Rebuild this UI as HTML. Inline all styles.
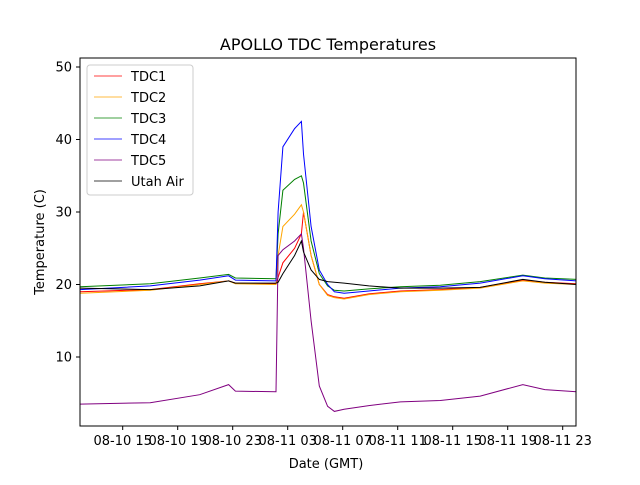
<!DOCTYPE html>
<html><head><meta charset="utf-8"><style>
body{margin:0;background:#fff}
text{font-family:"DejaVu Sans","Liberation Sans",sans-serif;fill:#000}
</style></head><body>
<svg id="chart" width="640" height="480" xmlns="http://www.w3.org/2000/svg">
<rect width="640" height="480" fill="#fff"/>
<text x="328" y="50" font-size="16" text-anchor="middle">APOLLO TDC Temperatures</text>
<g id="plot"></g>
<rect x="80" y="58" width="496" height="368" fill="none" stroke="#000" stroke-width="1"/>
<g id="axes"></g>
<text x="326" y="468" font-size="13" text-anchor="middle">Date (GMT)</text>
<text transform="translate(44,242) rotate(-90)" font-size="13" text-anchor="middle">Temperature (C)</text>
<g id="legend"></g>
</svg>
<script>
const times=[-3.1,2.0,5.6,7.7,8.2,11.15,11.3,11.65,12.5,13.0,13.15,13.7,14.3,14.9,15.4,16.1,17.9,20.2,23.1,26.0,29.1,30.7,33.0];
const tdc1=[19,19.3,20.1,20.5,20.2,20.1,21,23,25,27,30,24,20,18.6,18.3,18.1,18.7,19.1,19.3,19.6,20.6,20.3,20.1];
const tdc2=[18.8,19.2,20,20.5,20.1,20,24,28,29.7,31,30,24,20,18.5,18.2,18.0,18.6,19,19.2,19.5,20.5,20.2,20];
const tdc3=[19.7,20.1,20.9,21.4,20.9,20.8,27,33,34.5,35,34,26,21.5,19.8,19.2,19.1,19.4,19.7,19.9,20.4,21.3,20.9,20.7];
const tdc4=[19.3,19.8,20.6,21.2,20.6,20.5,30,39,41.5,42.5,38,28,22,20,19,18.8,19.1,19.5,19.7,20.2,21.2,20.8,20.5];
const tdc5=[3.5,3.7,4.8,6.2,5.3,5.2,24,24.8,26,27,25,15,6,3.2,2.5,2.8,3.3,3.8,4.0,4.6,6.2,5.5,5.2];
const utahAir=[19.5,19.3,19.8,20.5,20.2,20.2,20.3,21.5,24,26,24.5,22,20.7,20.4,20.3,20.2,19.8,19.5,19.5,19.6,20.7,20.3,20.0];
const xTicks=[0,4,8,12,16,20,24,28,32];
const xTickLabels=["08-10 15","08-10 19","08-10 23","08-11 03","08-11 07","08-11 11","08-11 15","08-11 19","08-11 23"];
const yTicks=[10,20,30,40,50];
const seriesNames=["TDC1","TDC2","TDC3","TDC4","TDC5","Utah Air"];
const seriesColors=["red","orange","green","blue","purple","black"];
const seriesData=[tdc1,tdc2,tdc3,tdc4,tdc5,utahAir];
const NS="http://www.w3.org/2000/svg";
const xs=h=>122.7+h*13.75;
const ys=v=>429.5-v*7.25;
const plot=document.getElementById('plot'),axes=document.getElementById('axes'),legend=document.getElementById('legend');
function mk(tag,attrs,parent){const e=document.createElementNS(NS,tag);for(const k in attrs)e.setAttribute(k,attrs[k]);parent.appendChild(e);return e;}
seriesData.forEach((d,i)=>{
 const p=mk('polyline',{points:d.map((v,j)=>xs(times[j]).toFixed(1)+','+ys(v).toFixed(1)).join(' '),fill:'none',stroke:seriesColors[i],'stroke-width':1},plot);
 
 
});
xTicks.forEach((t,i)=>{
 const x=xs(t);
 const l=mk('line',{x1:x,x2:x,y1:426,y2:430,stroke:'#000'},axes);
 
 
 const tx=mk('text',{x:x,y:445,'font-size':13,'text-anchor':'middle'},axes);tx.textContent=xTickLabels[i];
 
 
});
yTicks.forEach(v=>{
 const y=ys(v);
 const l=mk('line',{x1:76,x2:80,y1:y,y2:y,stroke:'#000'},axes);
 
 
 const tx=mk('text',{x:72,y:y+4.5,'font-size':13,'text-anchor':'end'},axes);tx.textContent=v;
 
 
});
const box=mk('rect',{x:87,y:65,width:106,height:130,rx:3,fill:'#fff',stroke:'#ccc'},legend);


seriesNames.forEach((n,i)=>{
 const y=76+i*21;
 const l=mk('line',{x1:94,x2:122,y1:y,y2:y,stroke:seriesColors[i],'stroke-width':0.8},legend);
 
 
 const t=mk('text',{x:131,y:y+5,'font-size':13},legend);t.textContent=n;
 
 
});
</script>
</body></html>
